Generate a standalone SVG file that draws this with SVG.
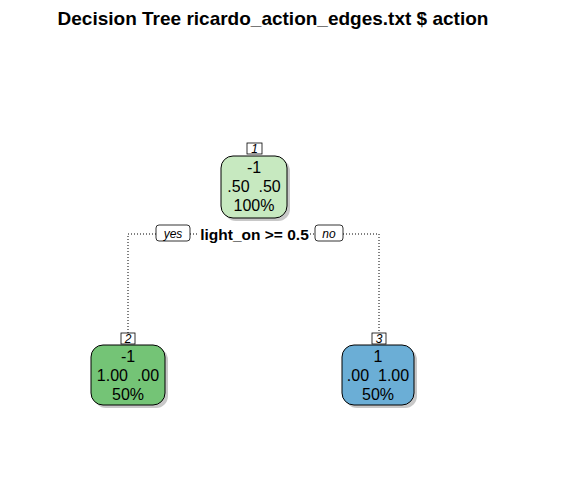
<svg xmlns="http://www.w3.org/2000/svg" width="567" height="478" viewBox="0 0 567 478">
<style>
text{font-family:"Liberation Sans",Arial,sans-serif;fill:#000;white-space:pre}
.nt{font-size:16px;text-anchor:middle}
.lb{font-size:12px;font-style:italic;text-anchor:middle}
.box{stroke:#000;stroke-width:1}
.sh{fill:#c8c8c8}
.tag{fill:#fff;stroke:#000;stroke-width:0.8}
.edge{fill:none;stroke:#000;stroke-width:1;stroke-dasharray:1,2}
</style>
<rect width="567" height="478" fill="#fff"/>
<text x="273" y="25" font-size="19" font-weight="bold" text-anchor="middle">Decision Tree ricardo_action_edges.txt $ action</text>
<g id="connectors">
<path class="edge" d="M128,333 V234 H156"/>
<path class="edge" d="M190,234 H198"/>
<path class="edge" d="M310,234 H315"/>
<path class="edge" d="M343,234 H379 V333"/>
<rect class="tag" x="156" y="225" width="34" height="16" rx="3"/>
<text class="lb" x="173" y="237.5">yes</text>
<rect class="tag" x="315" y="225" width="28" height="16" rx="3"/>
<text class="lb" x="329" y="237.5">no</text>
<text x="254.5" y="239.5" font-size="15.5" font-weight="bold" text-anchor="middle">light_on &gt;= 0.5</text>
</g>
<g id="node1">
<rect class="sh" x="224" y="159" width="66" height="62" rx="12"/>
<rect class="box" x="221" y="156" width="66" height="62" rx="12" fill="#c7e9c0"/>
<rect class="tag" x="247" y="143" width="15" height="11"/>
<text class="lb" x="254.5" y="152.5">1</text>
<text class="nt" x="254" y="173">-1</text>
<text class="nt" x="254" y="192">.50  .50</text>
<text class="nt" x="254" y="211">100%</text>
</g>
<g id="node2">
<rect class="sh" x="94" y="348" width="74" height="60" rx="12"/>
<rect class="box" x="91" y="345" width="74" height="60" rx="12" fill="#74c476"/>
<rect class="tag" x="121" y="333" width="14" height="11"/>
<text class="lb" x="128" y="342.5">2</text>
<text class="nt" x="128" y="362">-1</text>
<text class="nt" x="128" y="381">1.00  .00</text>
<text class="nt" x="128" y="400">50%</text>
</g>
<g id="node3">
<rect class="sh" x="345" y="348" width="72" height="60" rx="12"/>
<rect class="box" x="342" y="345" width="72" height="60" rx="12" fill="#6baed6"/>
<rect class="tag" x="372" y="333" width="14" height="11"/>
<text class="lb" x="379" y="342.5">3</text>
<text class="nt" x="378" y="362">1</text>
<text class="nt" x="378" y="381">.00  1.00</text>
<text class="nt" x="378" y="400">50%</text>
</g>
</svg>
